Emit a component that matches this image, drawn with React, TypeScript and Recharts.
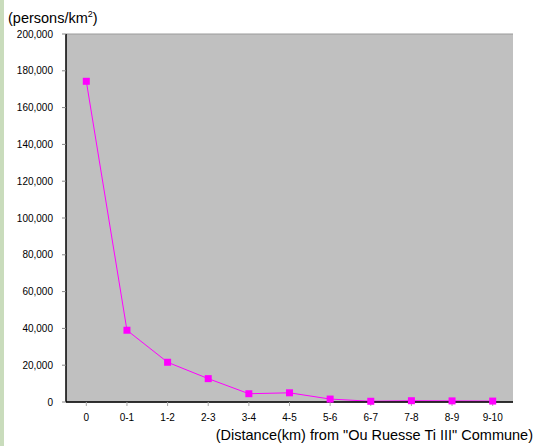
import { LineChart, Line, XAxis, YAxis, CartesianGrid } from 'recharts'

const distances = ['0', '0-1', '1-2', '2-3', '3-4', '4-5', '5-6', '6-7', '7-8', '8-9', '9-10']
const density = [174300, 39000, 21600, 12700, 4500, 5000, 1600, 400, 700, 600, 500]
const yTicks = [0, 20000, 40000, 60000, 80000, 100000, 120000, 140000, 160000, 180000, 200000]

const data = distances.map((d, i) => ({ distance: d, density: density[i] }))

const font = '"Liberation Sans", Arial, sans-serif'

const Marker = (props: any) => {
  const { cx, cy } = props
  if (cx == null || cy == null) return null
  return <rect x={cx - 3.5} y={cy - 3.5} width={7} height={7} fill="#ff00ff" />
}

export default function App() {
  return (
    <div style={{ position: 'absolute', left: 0, top: 0, width: 536, height: 446, background: '#fff', fontFamily: font }}>
      <div style={{ position: 'absolute', left: 0, top: 0, width: 4, height: 446, background: '#c9dcbc' }} />
      <div style={{ position: 'absolute', left: 8, top: 9, fontSize: 14.5, lineHeight: '18px', color: '#000' }}>
        (persons/km<sup style={{ fontSize: 9, lineHeight: 0 }}>2</sup>)
      </div>
      <LineChart width={536} height={446} data={data} margin={{ top: 34, right: 23, bottom: 14, left: 6 }}>
        <CartesianGrid horizontal vertical={false} stroke="#9a9a9a" fill="#c0c0c0" />
        <XAxis
          dataKey="distance"
          scale="band"
          height={30}
          axisLine={{ stroke: '#000', strokeWidth: 1.5 }}
          tickLine={{ stroke: '#aaa' }}
          tickSize={4}
          tick={{ fontSize: 10, fill: '#000', fontFamily: font }}
          tickMargin={8}
          interval={0}
        />
        <YAxis
          yAxisId="left"
          domain={[0, 200000]}
          ticks={yTicks}
          width={60}
          axisLine={{ stroke: '#000', strokeWidth: 1.5 }}
          tickLine={{ stroke: '#888' }}
          tickSize={4}
          tickMargin={9}
          tick={{ fontSize: 10, fill: '#000', fontFamily: font }}
          tickFormatter={(v: number) => v.toLocaleString('en-US')}
        />
        <YAxis
          yAxisId="right"
          orientation="right"
          domain={[0, 200000]}
          width={0}
          tick={false}
          tickLine={false}
          axisLine={{ stroke: '#999', strokeWidth: 1.5 }}
        />
        <Line
          yAxisId="left"
          type="linear"
          dataKey="density"
          stroke="#ff00ff"
          strokeWidth={1}
          dot={<Marker />}
          activeDot={false}
          isAnimationActive={false}
        />
      </LineChart>
      <div style={{ position: 'absolute', right: 3, top: 426, fontSize: 14.5, lineHeight: '18px', color: '#000' }}>
        (Distance(km) from "Ou Ruesse Ti III" Commune)
      </div>
    </div>
  )
}
